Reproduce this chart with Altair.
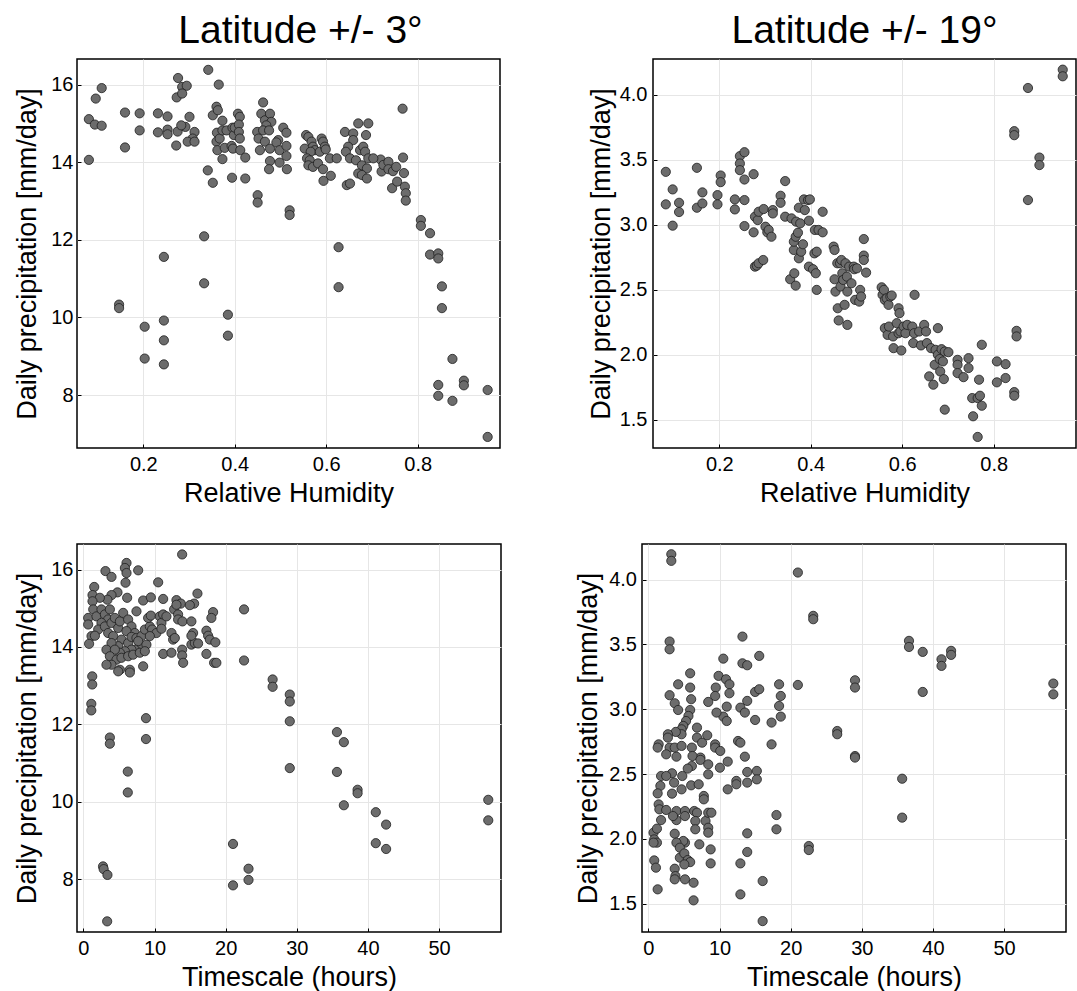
import altair as alt
import pandas as pd

FONT = "Liberation Sans"

# ---------------- Latitude +/- 3 deg : precipitation vs relative humidity
rh_lat3 = [0.081, 0.081, 0.096, 0.094, 0.109, 0.109, 0.147, 0.147, 0.16, 0.16, 0.192, 0.192, 0.203, 0.203,
           0.232, 0.232, 0.253, 0.253, 0.253, 0.245, 0.245, 0.245, 0.245, 0.273, 0.276, 0.285, 0.295, 0.272,
           0.275, 0.333, 0.333, 0.342, 0.365, 0.385, 0.385, 0.627, 0.627, 0.719, 0.721, 0.725, 0.736, 0.736,
           0.744, 0.746, 0.753, 0.755, 0.767, 0.768, 0.77, 0.772, 0.774, 0.774, 0.807, 0.807, 0.827, 0.827,
           0.845, 0.845, 0.853, 0.853, 0.845, 0.845, 0.876, 0.876, 0.901, 0.901, 0.953, 0.953,
           0.285, 0.301, 0.292, 0.283, 0.312, 0.308, 0.297, 0.312, 0.341, 0.352, 0.36, 0.352, 0.363, 0.373,
           0.361, 0.36, 0.367, 0.373, 0.382, 0.362, 0.378, 0.373, 0.395, 0.398, 0.393, 0.396, 0.4, 0.407,
           0.411, 0.409, 0.409, 0.411, 0.412, 0.423, 0.394, 0.423, 0.45, 0.45, 0.462, 0.458, 0.466, 0.477,
           0.48, 0.469, 0.449, 0.462, 0.475, 0.452, 0.466, 0.455, 0.477, 0.495, 0.491, 0.506, 0.513, 0.498,
           0.513, 0.513, 0.477, 0.475, 0.498, 0.514, 0.52, 0.52, 0.556, 0.561, 0.553, 0.568, 0.571, 0.575,
           0.566, 0.558, 0.564, 0.561, 0.571, 0.582, 0.586, 0.59, 0.593, 0.597, 0.599, 0.593, 0.608, 0.61,
           0.623, 0.641, 0.659, 0.67, 0.692, 0.659, 0.648, 0.643, 0.652, 0.665, 0.674, 0.681, 0.685, 0.687,
           0.678, 0.689, 0.67, 0.678, 0.689, 0.692, 0.703, 0.645, 0.652, 0.594]
precip_rh_lat3 = [15.11, 14.06, 15.64, 14.97, 15.91, 14.94, 10.33, 10.24, 15.28, 14.38, 15.26, 14.82, 9.76, 8.94,
                  15.26, 14.77, 15.18, 14.84, 14.72, 11.56, 9.92, 9.41, 8.79, 15.67, 16.17, 15.94, 15.97, 14.43,
                  14.79, 12.09, 10.88, 16.38, 16.0, 10.07, 9.53, 11.81, 10.78, 14.07, 13.76, 13.93, 14.01, 13.82,
                  13.33, 13.77, 13.88, 13.5, 15.38, 14.12, 13.72, 13.37, 13.2, 13.01, 12.51, 12.36, 12.17, 11.62,
                  11.65, 11.52, 10.8, 10.24, 8.26, 7.98, 8.93, 7.85, 8.37, 8.25, 8.13, 6.92,
                  15.77, 15.17, 14.91, 14.95, 14.78, 14.61, 14.53, 14.53, 13.79, 13.47, 15.43, 15.21, 15.34, 15.07,
                  14.76, 14.53, 14.61, 14.82, 14.82, 14.31, 14.37, 14.08, 14.89, 14.7, 14.42, 14.35, 14.89, 15.25,
                  15.17, 14.97, 14.78, 14.61, 14.31, 14.12, 13.6, 13.58, 13.15, 12.96, 15.54, 15.25, 15.08, 15.25,
                  15.04, 14.95, 14.78, 14.82, 14.82, 14.61, 14.53, 14.31, 14.35, 14.57, 14.51, 14.89, 14.76, 14.31,
                  14.42, 14.16, 14.03, 13.82, 13.99, 13.82, 12.76, 12.64, 14.7, 14.65, 14.35, 14.53, 14.4, 14.31,
                  14.27, 14.1, 14.05, 13.92, 13.88, 13.97, 14.27, 14.61, 14.53, 14.4, 14.33, 13.82, 14.1, 13.65,
                  14.1, 14.78, 14.74, 15.0, 15.0, 14.57, 14.4, 14.27, 14.1, 14.05, 14.31, 14.4, 14.27, 14.7,
                  13.92, 13.84, 13.71, 13.67, 13.58, 14.1, 14.1, 13.41, 13.45, 13.52]

# ---------------- Latitude +/- 19 deg : precipitation vs relative humidity
rh_lat19 = [0.083, 0.083, 0.098, 0.098, 0.112, 0.112, 0.151, 0.151, 0.163, 0.163, 0.196, 0.196, 0.203, 0.203,
            0.234, 0.234, 0.245, 0.245, 0.245, 0.255, 0.255, 0.255, 0.255, 0.275, 0.275, 0.278, 0.282, 0.286,
            0.296, 0.278, 0.284, 0.286, 0.297, 0.301, 0.305, 0.308, 0.314, 0.317, 0.317, 0.334, 0.334, 0.344,
            0.344, 0.355, 0.358, 0.364, 0.367, 0.363, 0.363, 0.367, 0.368, 0.372, 0.374, 0.374, 0.377, 0.379,
            0.383, 0.385, 0.387, 0.394, 0.396, 0.396, 0.398, 0.405, 0.408, 0.409, 0.411, 0.413, 0.413, 0.417,
            0.426, 0.426, 0.45, 0.452, 0.452, 0.454, 0.458, 0.459, 0.461, 0.464, 0.465, 0.467, 0.469, 0.471,
            0.474, 0.476, 0.479, 0.48, 0.48, 0.484, 0.489, 0.494, 0.495, 0.497, 0.501, 0.506, 0.508, 0.51,
            0.516, 0.516, 0.516, 0.521, 0.555, 0.557, 0.56, 0.562, 0.566, 0.57, 0.574, 0.577, 0.562, 0.568,
            0.571, 0.58, 0.581, 0.592, 0.594, 0.588, 0.592, 0.596, 0.598, 0.603, 0.607, 0.611, 0.622, 0.626,
            0.624, 0.627, 0.637, 0.641, 0.648, 0.652, 0.654, 0.659, 0.663, 0.668, 0.671, 0.673, 0.678, 0.678,
            0.682, 0.683, 0.686, 0.689, 0.691, 0.693, 0.693, 0.701, 0.721, 0.721, 0.721, 0.734, 0.745, 0.745,
            0.753, 0.755, 0.765, 0.765, 0.768, 0.77, 0.774, 0.774, 0.807, 0.807, 0.826, 0.826, 0.845, 0.845,
            0.85, 0.85, 0.845, 0.845, 0.875, 0.875, 0.9, 0.9, 0.951, 0.951]
precip_rh_lat19 = [3.406, 3.156, 3.271, 2.992, 3.168, 3.097, 3.437, 3.13, 3.248, 3.163, 3.227, 3.156, 3.378, 3.327,
                   3.194, 3.117, 3.527, 3.47, 3.419, 3.557, 3.347, 3.189, 2.989, 3.388, 2.941, 2.677, 2.685, 2.703,
                   2.728, 3.061, 3.035, 3.099, 3.12, 2.984, 2.941, 2.959, 2.907, 3.112, 3.086, 3.222, 3.168, 3.335,
                   3.061, 2.58, 3.048, 2.626, 2.531, 2.805, 2.869, 2.907, 3.023, 2.938, 3.13, 2.741, 3.01, 2.792,
                   2.849, 3.194, 3.112, 3.189, 3.03, 2.677, 3.194, 2.657, 2.779, 2.959, 2.626, 2.498, 2.792, 2.959,
                   3.099, 2.941, 2.831, 2.805, 2.58, 2.485, 2.703, 2.357, 2.263, 2.703, 2.524, 2.728, 2.626, 2.575,
                   2.383, 2.703, 2.6, 2.485, 2.229, 2.677, 2.549, 2.677, 2.657, 2.421, 2.664, 2.408, 2.498, 2.447,
                   2.889, 2.762, 2.728, 2.631, 2.518, 2.46, 2.498, 2.421, 2.434, 2.383, 2.447, 2.455, 2.204, 2.152,
                   2.216, 2.14, 2.05, 2.357, 2.319, 2.242, 2.165, 2.178, 2.032, 2.216, 2.165, 2.229, 2.216, 2.165,
                   2.089, 2.46, 2.178, 2.071, 2.229, 2.178, 2.089, 1.833, 2.05, 1.769, 1.922, 2.037, 2.204, 1.999,
                   1.966, 1.871, 2.042, 1.948, 1.812, 1.577, 2.024, 2.019, 1.96, 1.922, 1.858, 1.827, 1.973, 1.897,
                   1.666, 1.526, 1.367, 1.666, 1.807, 1.684, 1.607, 2.076, 1.948, 1.787, 1.927, 1.82, 1.712, 1.684,
                   2.183, 2.14, 3.719, 3.688, 4.051, 3.189, 3.516, 3.458, 4.192, 4.141]

# ---------------- Latitude +/- 3 deg : precipitation vs timescale
tau_lat3 = [1.11, 1.11, 2.76, 2.85, 3.38, 3.34, 3.72, 3.72, 6.24, 6.24, 8.8, 8.8, 22.58, 22.58, 21.03, 21.03,
            23.21, 23.21, 26.6, 26.6, 29.01, 29.01, 29.01, 29.01, 35.64, 35.64, 36.61, 36.61, 38.54, 38.54,
            41.1, 41.1, 42.55, 42.55, 56.91, 56.91,
            13.88, 6.06, 5.83, 7.7, 3.1, 3.95, 6.06, 5.92, 10.51, 1.52, 1.28, 4.79, 3.95, 6.15, 3.38, 2.31, 1.28,
            8.4, 9.48, 11.21, 13.08, 13.69, 16.03, 15.56, 14.96, 18.23, 17.99, 0.67, 0.67, 1.38, 1.84, 2.54,
            3.02, 3.48, 3.72, 2.54, 2.08, 3.02, 3.95, 4.42, 4.89, 3.48, 4.19, 5.13, 5.59, 6.29, 6.76, 7.46,
            7.23, 6.05, 5.35, 4.89, 3.95, 3.24, 6.29, 6.76, 7.46, 8.16, 8.64, 9.34, 9.1, 9.48, 10.74, 10.97,
            11.21, 11.67, 12.75, 13.31, 13.31, 13.92, 13.08, 15.18, 9.66, 10.27, 10.97, 12.38, 12.61, 12.85,
            8.16, 7.7, 7.23, 8.86, 9.34, 6.76, 5.83, 5.13, 4.42, 3.72, 4.65, 5.35, 6.29, 6.99, 7.93, 8.64,
            3.95, 3.24, 5.13, 4.89, 6.53, 6.53, 8.4, 11.21, 12.38, 13.88, 13.88, 14.02, 15.18, 15.66, 15.42,
            15.18, 16.12, 17.29, 17.53, 17.77, 18.55, 17.29, 18.37, 18.69, 1.24, 1.24, 1.14, 1.62, 0.8]
precip_tau_lat3 = [12.53, 12.36, 8.33, 8.26, 8.11, 6.91, 11.66, 11.5, 10.78, 10.24, 12.16, 11.62, 14.97, 13.65,
                   8.91, 7.84, 8.27, 7.98, 13.16, 12.97, 12.77, 12.59, 12.08, 10.87, 11.8, 10.77, 11.54, 9.91,
                   10.31, 10.22, 9.73, 8.93, 9.41, 8.78, 10.05, 9.52,
                   16.39, 16.17, 16.04, 15.98, 15.96, 15.81, 15.91, 15.66, 15.67, 15.55, 15.34, 15.41, 15.34,
                   15.27, 15.22, 15.27, 15.18, 15.2, 15.28, 15.24, 15.21, 15.12, 15.38, 15.12, 15.08, 14.9,
                   14.75, 14.75, 14.58, 14.97, 14.79, 14.97, 14.84, 14.71, 14.97, 14.62, 14.45, 14.53, 14.62,
                   14.75, 14.49, 14.36, 14.28, 14.66, 14.88, 14.71, 14.53, 14.92, 14.36, 14.41, 14.19, 14.02,
                   14.1, 13.93, 14.1, 14.26, 14.23, 14.28, 14.45, 14.53, 14.75, 14.81, 14.79, 14.62, 14.84,
                   14.79, 14.97, 14.84, 14.71, 14.66, 15.09, 14.66, 14.45, 14.36, 14.47, 14.36, 14.19, 14.23,
                   14.02, 14.15, 13.93, 14.06, 14.28, 13.93, 13.89, 13.85, 13.93, 13.76, 13.67, 13.72, 13.76,
                   13.8, 13.85, 13.89, 13.54, 13.54, 13.41, 13.37, 13.41, 13.34, 13.5, 13.82, 13.85, 13.93,
                   13.78, 13.59, 14.06, 14.1, 14.36, 14.29, 14.09, 14.42, 14.29, 14.19, 14.12, 13.82, 13.59,
                   13.59, 13.24, 13.03, 14.28, 14.29, 14.08]

# ---------------- Latitude +/- 19 deg : precipitation vs timescale
tau_lat19 = [3.22, 3.22, 2.98, 2.98, 21.01, 21.01, 23.17, 23.17, 13.22, 10.53, 15.58, 13.22, 13.89, 9.86,
             10.91, 11.39, 11.39, 11.01, 10.53, 11.01, 9.47, 9.38, 9.57, 8.41, 9.38, 9.38, 10.1, 10.05, 11.15,
             11.15, 12.36, 12.36, 12.6, 12.93, 12.93, 13.56, 13.89, 13.56, 13.89, 13.89, 15.24, 15.24, 15.0,
             15.0, 15.58, 17.31, 17.31, 18.37, 18.37, 18.61, 18.61, 18.0, 18.0, 13.89, 13.89, 12.93, 12.93,
             16.06, 16.06, 22.55, 22.55, 26.54, 26.54, 29.04, 29.04, 29.04, 29.04, 35.67, 35.67, 36.63, 36.63,
             38.56, 38.56, 41.2, 41.2, 42.55, 42.55, 56.92, 56.92,
             5.87, 5.87, 6.01, 4.18, 2.98, 3.7, 4.18, 5.87, 5.63, 5.29, 4.9, 4.66, 4.66, 3.85, 2.74, 2.74, 1.44,
             1.3, 2.98, 3.7, 3.94, 2.5, 4.66, 6.11, 6.83, 6.83, 7.55, 8.27, 7.31, 6.2, 6.11, 7.31, 8.41, 8.41,
             5.53, 4.76, 3.32, 3.61, 3.32, 4.66, 6.01, 7.07, 1.78, 2.5, 1.68, 1.3, 1.44, 1.54, 1.78, 2.5, 3.94,
             3.94, 3.46, 5.14, 5.14, 6.44, 6.83, 6.59, 6.59, 7.79, 7.79, 8.03, 8.41, 8.85, 8.41, 8.41, 8.75,
             8.75, 7.16, 5.14, 4.9, 3.7, 3.94, 4.42, 4.42, 5.05, 5.53, 5.87, 5.05, 3.7, 3.8, 3.7, 5.14, 6.35,
             6.35, 0.72, 0.82, 1.2, 1.2, 0.82, 1.06, 1.3, 0.72]
precip_tau_lat19 = [4.195, 4.144, 3.522, 3.462, 4.054, 3.187, 3.72, 3.694, 3.56, 3.39, 3.411, 3.354, 3.339, 3.257,
                    3.231, 3.192, 3.123, 3.02, 2.943, 2.909, 3.167, 3.102, 2.974, 3.056, 2.729, 2.704, 2.678,
                    2.549, 2.596, 2.382, 2.447, 2.421, 2.755, 2.742, 3.012, 2.974, 3.064, 2.634, 2.516, 2.434,
                    2.524, 2.459, 2.917, 3.133, 3.154, 2.897, 2.729, 3.192, 3.025, 3.102, 2.943, 2.184, 2.074,
                    2.043, 1.899, 1.811, 1.572, 1.675, 1.366, 1.945, 1.914, 2.832, 2.807, 3.223, 3.167, 2.639,
                    2.627, 2.464, 2.164, 3.527, 3.48, 3.442, 3.133, 3.385, 3.334, 3.45, 3.419, 3.198, 3.115,
                    3.277, 3.167, 3.077, 3.192, 3.108, 3.046, 2.994, 2.994, 2.948, 2.909, 2.871, 2.845, 2.807,
                    2.825, 2.807, 2.781, 2.729, 2.704, 2.704, 2.704, 2.634, 2.652, 2.717, 2.704, 2.858, 2.781,
                    2.742, 2.799, 2.627, 2.639, 2.562, 2.609, 2.575, 2.498, 2.542, 2.485, 2.506, 2.434, 2.349,
                    2.382, 2.413, 2.421, 2.485, 2.485, 2.409, 2.351, 2.266, 2.228, 2.145, 2.223, 2.215, 2.145,
                    2.176, 2.215, 2.176, 2.215, 2.202, 2.138, 2.074, 2.331, 2.305, 2.138, 2.202, 2.202, 2.086,
                    2.048, 1.919, 1.811, 1.958, 1.971, 1.984, 2.04, 1.971, 1.932, 1.855, 1.888, 1.837, 1.821,
                    1.803, 1.77, 1.713, 1.688, 1.688, 1.662, 1.526, 2.048, 1.996, 2.079, 1.971, 1.834, 1.778,
                    1.611, 1.971]

# ---------------- axes / ticks / titles
panel_titles = ["Latitude +/- 3°", "Latitude +/- 19°"]
rh_ticks = [0.2, 0.4, 0.6, 0.8]
tau_ticks = [0, 10, 20, 30, 40, 50]
precip3_ticks = [8, 10, 12, 14, 16]
precip19_ticks = [1.5, 2.0, 2.5, 3.0, 3.5, 4.0]
ytitle = "Daily precipitation [mm/day]"

rh_domain = [0.055, 0.98]
tau_domain = [-0.9, 58.7]
precip3_domain = [6.635, 16.66]
precip19_domain = [1.282, 4.274]

POINT_FILL = "#6c6c6c"
POINT_STROKE = "#1e1e1e"


def scatter(xs, ys, xdom, ydom, xticks, yticks, xfmt, yfmt, xtitle, w, h,
            ylabpad, ytitlepad, title=None, title_dx=0):
    df = pd.DataFrame({"x": xs, "y": ys})
    xaxis = alt.Axis(values=xticks, format=xfmt, title=xtitle, offset=-4, tickSize=4,
                     labelPadding=6, titlePadding=6, labelFlush=False, labelOverlap=False)
    yaxis = alt.Axis(values=yticks, format=yfmt, title=ytitle, offset=-4, tickSize=4,
                     labelPadding=ylabpad, titlePadding=ytitlepad, labelFlush=False,
                     labelOverlap=False)
    ch = alt.Chart(df).mark_circle(
        size=85, fill=POINT_FILL, stroke=POINT_STROKE, strokeWidth=0.8, opacity=1
    ).encode(
        x=alt.X("x:Q", scale=alt.Scale(domain=xdom, nice=False, zero=False), axis=xaxis),
        y=alt.Y("y:Q", scale=alt.Scale(domain=ydom, nice=False, zero=False), axis=yaxis),
    ).properties(width=w, height=h)
    if title:
        ch = ch.properties(title=alt.TitleParams(
            title, fontSize=39, font=FONT, fontWeight="normal", color="black",
            anchor="middle", frame="group", dx=title_dx, offset=-23, baseline="alphabetic"))
    return ch


tl = scatter(rh_lat3, precip_rh_lat3, rh_domain, precip3_domain, rh_ticks, precip3_ticks,
             ".1f", "d", "Relative Humidity", 423, 389, 4, 9, panel_titles[0], 12)
tr = scatter(rh_lat19, precip_rh_lat19, rh_domain, precip19_domain, rh_ticks, precip19_ticks,
             ".1f", ".1f", "Relative Humidity", 423, 389, 6, 4, panel_titles[1], 0)
bl = scatter(tau_lat3, precip_tau_lat3, tau_domain, precip3_domain, tau_ticks, precip3_ticks,
             "d", "d", "Timescale (hours)", 424, 388, 4, 9)
br = scatter(tau_lat19, precip_tau_lat19, tau_domain, precip19_domain, tau_ticks, precip19_ticks,
             "d", ".1f", "Timescale (hours)", 424, 388, 5.5, 6)

row0 = alt.hconcat(tl, tr, spacing=85)
row1 = alt.hconcat(bl, br, spacing=71)

chart = alt.vconcat(row0, row1, spacing=36).properties(
    padding={"left": 13, "top": 11, "right": 0, "bottom": 0},
    background="white",
).configure_view(
    stroke="black", strokeWidth=1.5
).configure_axis(
    domain=False, grid=True, gridColor="#e6e6e6", gridWidth=1,
    ticks=True, tickColor="black", tickWidth=1,
    labelFont=FONT, labelFontSize=20, labelColor="black",
    titleFont=FONT, titleFontSize=27, titleFontWeight="normal", titleColor="black",
)

chart.save("out.html", embed_options={"renderer": "svg", "actions": False})
